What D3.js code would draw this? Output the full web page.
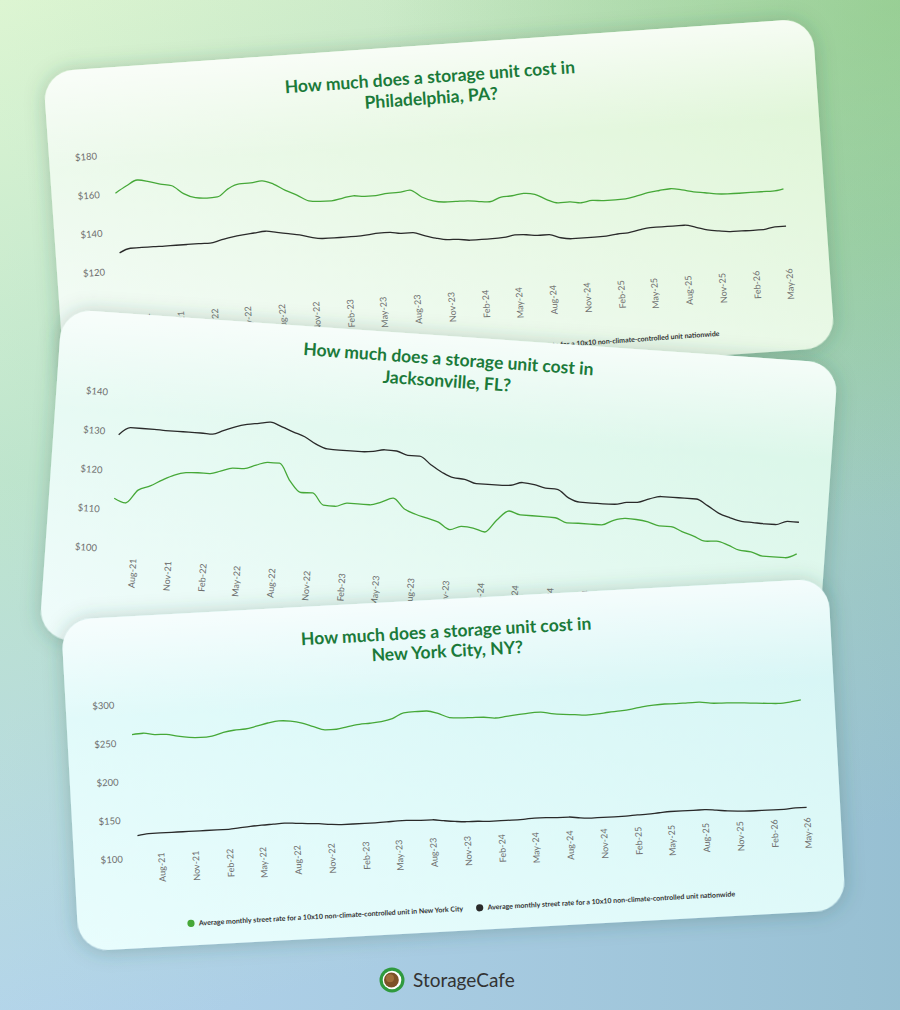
<!DOCTYPE html>
<html lang="en">
<head>
<meta charset="UTF-8" />
<title>How much does a storage unit cost</title>
<script src="https://cdn.jsdelivr.net/npm/d3@7"></script>
<style>
  html, body { margin:0; padding:0; }
  body { width:900px; height:1010px; overflow:hidden; font-family: Lato, "Open Sans", sans-serif; }
  svg { display:block; }
  .title { font-weight:700; fill:#1b7a3a; text-anchor:middle; font-size:17.5px; }
  .ytick, .xtick { fill:#6e6e6e; }
  .legend text { font-weight:700; fill:#333; font-size:7px; }
</style>
</head>
<body>
<svg id="chart" width="900" height="1010"></svg>
<script>
// x axis: one value per month, Jun-21 .. May-26
const firstMonth = "Jun-21";
const lastMonth = "May-26";
const tickLabels = ["Aug-21","Nov-21","Feb-22","May-22","Aug-22","Nov-22","Feb-23","May-23","Aug-23","Nov-23",
                    "Feb-24","May-24","Aug-24","Nov-24","Feb-25","May-25","Aug-25","Nov-25","Feb-26","May-26"];

// average monthly street rate, 10x10 non-climate-controlled
const phillyRates = [160.2,163.5,166.2,165.0,163.3,162.0,157.5,155.0,154.4,154.6,
                     158.5,160.5,160.6,161.3,159.2,155.5,152.7,149.3,148.6,148.5,
                     149.5,150.3,149.6,149.6,150.3,150.4,151.2,147.2,144.8,143.8,
                     143.7,143.6,142.8,142.3,144.3,144.6,145.4,144.5,141.4,139.3,
                     139.4,138.5,139.3,138.8,138.8,138.9,140.0,141.3,142.0,142.5,
                     141.5,140.1,139.2,138.2,137.8,137.7,137.7,137.7,137.6,138.4];
const jacksonvilleRates = [113.0,112.0,115.5,116.8,118.5,120.0,120.8,121.0,121.0,121.8,
                           122.8,122.9,124.0,124.9,124.9,120.5,117.8,117.9,115.0,114.9,
                           115.9,115.9,115.9,116.8,118.0,115.5,114.3,113.5,112.7,111.0,
                           112.0,111.8,111.0,114.2,116.8,116.0,116.0,116.0,115.9,114.8,
                           114.9,114.9,114.9,116.3,117.0,116.9,116.5,115.7,115.7,114.6,
                           113.7,112.6,112.8,112.0,110.9,110.7,109.8,109.8,109.8,111.0];
const nycRates = [260.5,261.5,259.0,258.5,255.2,252.8,252.0,253.0,257.0,259.0,
                  259.8,262.6,266.0,268.0,266.9,263.5,258.0,253.1,253.1,255.8,
                  257.8,258.5,259.7,262.9,269.5,270.3,270.4,266.5,260.3,259.0,
                  258.7,258.3,256.5,257.8,259.2,260.6,260.9,258.2,256.4,255.3,
                  254.0,254.6,256.0,256.9,258.5,260.7,262.2,262.8,262.4,262.6,
                  262.7,260.6,259.9,259.5,258.5,257.4,256.4,255.5,256.5,258.5];
const nationwideRates = [129.3,131.3,131.3,131.3,131.2,131.2,131.2,131.2,131.1,132.2,
                         133.4,134.2,134.7,135.2,134.2,133.1,132.1,130.4,129.4,129.3,
                         129.3,129.3,129.6,130.2,130.1,129.2,129.2,127.2,125.5,124.3,
                         124.1,123.2,123.2,123.2,123.4,124.3,124.0,123.3,123.2,121.2,
                         120.3,120.3,120.3,120.4,121.1,121.3,122.4,123.2,123.2,123.2,
                         123.2,121.7,120.0,119.0,118.3,118.2,118.1,118.1,119.1,119.1];

const phillyTicks = [120, 140, 160, 180];
const jacksonvilleTicks = [100, 110, 120, 130, 140];
const nycTicks = [100, 150, 200, 250, 300];

const GREEN = "#46a838", BLACK = "#2a2a2a";

const parseMonth = d3.timeParse("%b-%y");
const months = d3.timeMonth.range(parseMonth(firstMonth), d3.timeMonth.offset(parseMonth(lastMonth), 1));

// card placement (each card is tilted)
const cards = [
  { city: "Philadelphia, PA?", legendCity: "Philadelphia", rates: phillyRates, ticks: phillyTicks,
    tl: [43, 72], angle: -4, w: 771, h: 330, xr: [63.8, 730.5], yr: [203.8, 87.6],
    xLabelTop: 248, yLabelX: 48, titleY: [32, 53], fill: ["#f5fcfa", "#ddf5d3"] },
  { city: "Jacksonville, FL?", legendCity: "Jacksonville", rates: jacksonvilleRates, ticks: jacksonvilleTicks,
    tl: [62, 309], angle: 4, w: 778, h: 330, xr: [65.3, 750], yr: [236, 79.6],
    xLabelTop: 244, yLabelX: 51.6, titleY: [23, 45], fill: ["#effcfb", "#d8f6e6"] },
  { city: "New York City, NY?", legendCity: "New York City", rates: nycRates, ticks: nycTicks,
    tl: [61, 620], angle: -3.1, w: 768, h: 332, xr: [64.7, 734.4], yr: [242.1, 87.8],
    xLabelTop: 237.6, yLabelX: 48.7, titleY: [32, 52], fill: ["#e8fdfd", "#d5f5f4"] }
];

const svg = d3.select("#chart");
const defs = svg.append("defs");

// background
const bg1 = defs.append("linearGradient").attr("id", "bg1")
  .attr("x1", 0).attr("y1", 0).attr("x2", 0.25).attr("y2", 1);
bg1.append("stop").attr("offset", 0).attr("stop-color", "#d8f4cc");
bg1.append("stop").attr("offset", 0.45).attr("stop-color", "#b5e1c6");
bg1.append("stop").attr("offset", 1).attr("stop-color", "#a8cdea");
const bg2 = defs.append("linearGradient").attr("id", "bg2")
  .attr("x1", 0).attr("y1", 0).attr("x2", 1).attr("y2", 0);
bg2.append("stop").attr("offset", 0).attr("stop-color", "#ffffff").attr("stop-opacity", 0.12);
bg2.append("stop").attr("offset", 1).attr("stop-color", "#3f7a55").attr("stop-opacity", 0.16);
const bg3 = defs.append("radialGradient").attr("id", "bg3")
  .attr("cx", 900).attr("cy", 0).attr("r", 520).attr("gradientUnits", "userSpaceOnUse");
bg3.append("stop").attr("offset", 0).attr("stop-color", "#7cc46c").attr("stop-opacity", 0.45);
bg3.append("stop").attr("offset", 1).attr("stop-color", "#7cc46c").attr("stop-opacity", 0);

svg.append("rect").attr("width", 900).attr("height", 1010).attr("fill", "url(#bg1)");
svg.append("rect").attr("width", 900).attr("height", 1010).attr("fill", "url(#bg2)");
svg.append("rect").attr("width", 900).attr("height", 1010).attr("fill", "url(#bg3)");

const shadow = defs.append("filter").attr("id", "shadow")
  .attr("x", "-10%").attr("y", "-20%").attr("width", "120%").attr("height", "150%");
shadow.append("feDropShadow").attr("dx", 0).attr("dy", 1).attr("stdDeviation", 10)
  .attr("flood-color", "#2b5a4c").attr("flood-opacity", 0.3);

const gloss = defs.append("linearGradient").attr("id", "gloss")
  .attr("x1", 0).attr("y1", 0).attr("x2", 0).attr("y2", 1);
gloss.append("stop").attr("offset", 0).attr("stop-color", "#fff").attr("stop-opacity", 0.75);
gloss.append("stop").attr("offset", 0.3).attr("stop-color", "#fff").attr("stop-opacity", 0);

cards.forEach((c, i) => {
  const grad = defs.append("linearGradient").attr("id", "card" + i)
    .attr("x1", 0).attr("y1", 1).attr("x2", 1).attr("y2", 0);
  grad.append("stop").attr("offset", 0).attr("stop-color", c.fill[0]);
  grad.append("stop").attr("offset", 1).attr("stop-color", c.fill[1]);

  const g = svg.append("g")
    .attr("transform", `translate(${c.tl[0]},${c.tl[1]}) rotate(${c.angle})`);

  g.append("rect").attr("width", c.w).attr("height", c.h).attr("rx", 30)
    .attr("fill", "url(#card" + i + ")").attr("filter", "url(#shadow)");
  g.append("rect").attr("width", c.w).attr("height", c.h).attr("rx", 30)
    .attr("fill", "url(#gloss)");

  // title
  const cx = c.w / 2;
  g.append("text").attr("class", "title").attr("x", cx).attr("y", c.titleY[0]).attr("dy", "0.35em")
    .text("How much does a storage unit cost in");
  g.append("text").attr("class", "title").attr("x", cx).attr("y", c.titleY[1]).attr("dy", "0.35em")
    .text(c.city);

  const x = d3.scaleTime().domain([months[0], months[months.length - 1]]).range(c.xr);
  const y = d3.scaleLinear().domain(d3.extent(c.ticks)).range(c.yr);

  // y tick labels
  g.selectAll(".ytick").data(c.ticks).join("text")
    .attr("class", "ytick")
    .attr("x", c.yLabelX).attr("y", d => y(d)).attr("dy", "0.35em")
    .attr("text-anchor", "end").attr("font-size", 9.5)
    .text(d => "$" + d);

  // x tick labels
  g.selectAll(".xtick").data(tickLabels).join("text")
    .attr("class", "xtick")
    .attr("transform", d => `translate(${x(parseMonth(d))},${c.xLabelTop}) rotate(-90)`)
    .attr("dy", "0.35em").attr("text-anchor", "end").attr("font-size", 9)
    .text(d => d);

  const line = d3.line()
    .x((d, k) => x(months[k]))
    .y(d => y(d))
    .curve(d3.curveMonotoneX);

  g.append("path").datum(nationwideRates).attr("d", line)
    .attr("fill", "none").attr("stroke", BLACK).attr("stroke-width", 1.3);
  g.append("path").datum(c.rates).attr("d", line)
    .attr("fill", "none").attr("stroke", GREEN).attr("stroke-width", 1.3);

  // legend
  const items = [
    { color: GREEN, label: "Average monthly street rate for a 10x10 non-climate-controlled unit in " + c.legendCity },
    { color: BLACK, label: "Average monthly street rate for a 10x10 non-climate-controlled unit nationwide" }
  ];
  const lg = g.append("g").attr("class", "legend");
  let pos = 0;
  items.forEach((it, k) => {
    const ig = lg.append("g").attr("transform", `translate(${pos},0)`);
    ig.append("circle").attr("cx", 3.6).attr("r", 3.6).attr("fill", it.color);
    const t = ig.append("text").attr("x", 11.5).attr("dy", "0.35em").text(it.label);
    pos += 11.5 + t.node().getComputedTextLength() + 13;
  });
  const legendW = pos - 13;
  lg.attr("transform", `translate(${cx - legendW / 2},${c.h - 22})`);
});

// StorageCafe logo
const logo = svg.append("g").attr("transform", "translate(392,980)");
logo.append("circle").attr("r", 12.5).attr("fill", "#2f9a3e");
logo.append("circle").attr("r", 9.3).attr("fill", "#ffffff");
logo.append("circle").attr("r", 7.4).attr("cx", -0.6).attr("fill", "#7d5128");
logo.append("circle").attr("r", 4).attr("cx", -2).attr("cy", -1.8).attr("fill", "#a8743e").attr("opacity", 0.8);
svg.append("text").attr("x", 413).attr("y", 986.5)
  .attr("font-size", 19).attr("fill", "#333333")
  .text("StorageCafe");
</script>
</body>
</html>
